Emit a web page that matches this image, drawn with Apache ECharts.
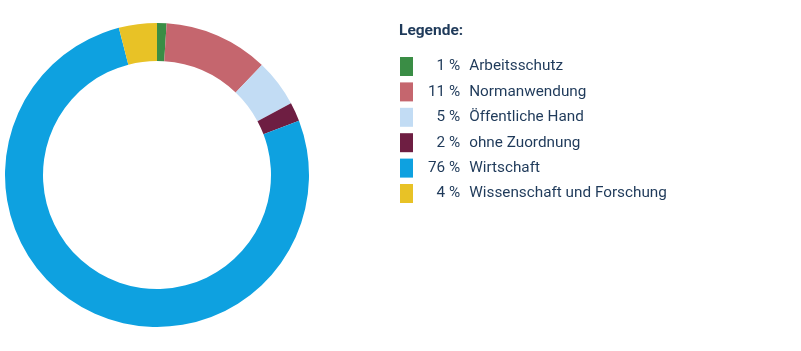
<!DOCTYPE html>
<html>
<head>
<meta charset="utf-8">
<script src="https://cdn.jsdelivr.net/npm/echarts@6/dist/echarts.min.js"></script>
<style>
  html, body { margin: 0; padding: 0; background: #fff; }
  #chart { width: 801px; height: 351px; }
</style>
</head>
<body>
<div id="chart"></div>
<script>
const categories = ['Arbeitsschutz', 'Normanwendung', 'Öffentliche Hand', 'ohne Zuordnung', 'Wirtschaft', 'Wissenschaft und Forschung'];
const shares = [1, 11, 5, 2, 76, 4];
const colors = ['#3a8d45', '#c5666e', '#c2dcf4', '#6e1e42', '#0ea1e0', '#e8c226'];

const textColor = '#1f3a5a';
const chart = echarts.init(document.getElementById('chart'));

const option = {
  animation: false,
  title: {
    text: 'Legende:',
    left: 399,
    top: 23,
    padding: 0,
    textStyle: { fontFamily: 'Roboto', fontSize: 15.5, fontWeight: 'bold', color: textColor }
  },
  legend: {
    orient: 'vertical',
    left: 400,
    top: 57,
    padding: 0,
    itemWidth: 13,
    itemHeight: 19,
    itemGap: 6.4,
    icon: 'rect',
    formatter: (name) => {
      const i = categories.indexOf(name);
      // figure space keeps the percentages right-aligned
      const pct = (shares[i] < 10 ? '\u2007' : '') + shares[i] + ' %';
      return '{p|' + pct + '}{n|' + name + '}';
    },
    textStyle: {
      color: textColor,
      fontFamily: 'Roboto',
      fontSize: 15.3,
      rich: {
        p: { padding: [0, 0, 0, 10], color: textColor, fontFamily: 'Roboto', fontSize: 15.3 },
        n: { padding: [0, 0, 0, 9], color: textColor, fontFamily: 'Roboto', fontSize: 15.3 }
      }
    }
  },
  series: [{
    type: 'pie',
    center: [157, 175],
    radius: [114, 152],
    startAngle: 90,
    clockwise: true,
    label: { show: false },
    labelLine: { show: false },
    emphasis: { disabled: true },
    data: categories.map((name, i) => ({
      name,
      value: shares[i],
      itemStyle: { color: colors[i] }
    }))
  }]
};

chart.setOption(option);
</script>
</body>
</html>
